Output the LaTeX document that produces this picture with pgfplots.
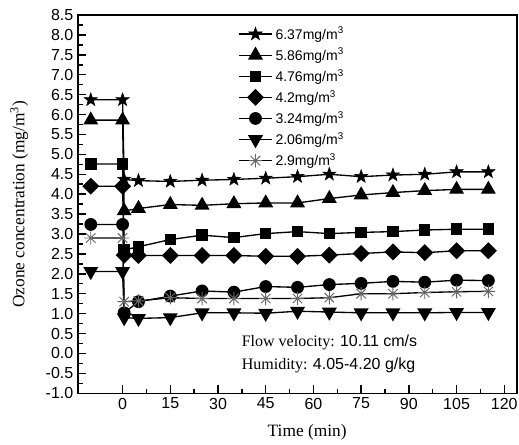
\documentclass[border=0pt]{standalone}
\usepackage{fontspec}
\setmainfont{Liberation Serif}
\setsansfont{Liberation Sans}
\usepackage{pgfplots}
\pgfplotsset{compat=1.18}
\usepackage{pgfplotstable}

% filled five-point star
\pgfdeclareplotmark{fstar}{%
  \pgfpathmoveto{\pgfpointpolar{90}{\pgfplotmarksize}}%
  \pgfpathlineto{\pgfpointpolar{126}{0.4\pgfplotmarksize}}%
  \pgfpathlineto{\pgfpointpolar{162}{\pgfplotmarksize}}%
  \pgfpathlineto{\pgfpointpolar{198}{0.4\pgfplotmarksize}}%
  \pgfpathlineto{\pgfpointpolar{234}{\pgfplotmarksize}}%
  \pgfpathlineto{\pgfpointpolar{270}{0.4\pgfplotmarksize}}%
  \pgfpathlineto{\pgfpointpolar{306}{\pgfplotmarksize}}%
  \pgfpathlineto{\pgfpointpolar{342}{0.4\pgfplotmarksize}}%
  \pgfpathlineto{\pgfpointpolar{18}{\pgfplotmarksize}}%
  \pgfpathlineto{\pgfpointpolar{54}{0.4\pgfplotmarksize}}%
  \pgfpathclose\pgfusepathqfillstroke}
% eight-arm asterisk
\pgfdeclareplotmark{ast8}{%
  \pgfpathmoveto{\pgfqpoint{0pt}{\pgfplotmarksize}}\pgfpathlineto{\pgfqpoint{0pt}{-\pgfplotmarksize}}%
  \pgfpathmoveto{\pgfqpoint{\pgfplotmarksize}{0pt}}\pgfpathlineto{\pgfqpoint{-\pgfplotmarksize}{0pt}}%
  \pgfpathmoveto{\pgfqpoint{0.707\pgfplotmarksize}{0.707\pgfplotmarksize}}\pgfpathlineto{\pgfqpoint{-0.707\pgfplotmarksize}{-0.707\pgfplotmarksize}}%
  \pgfpathmoveto{\pgfqpoint{-0.707\pgfplotmarksize}{0.707\pgfplotmarksize}}\pgfpathlineto{\pgfqpoint{0.707\pgfplotmarksize}{-0.707\pgfplotmarksize}}%
  \pgfusepathqstroke}

% time (min) and ozone concentration (mg/m^3) per initial concentration
\pgfplotstableread{
x     star  tri   sq    dia   cir   dtri  ast
-10   6.37  5.86  4.76  4.20  3.24  2.06  2.90
0     6.37  5.86  4.76  4.20  3.24  2.06  2.90
0.5   4.37  3.58  2.60  2.47  1.02  0.90  1.30
5     4.34  3.64  2.68  2.46  1.30  0.88  1.32
15    4.32  3.74  2.86  2.46  1.44  0.90  1.40
25    4.35  3.72  2.97  2.46  1.57  1.02  1.38
35    4.37  3.76  2.91  2.46  1.54  1.02  1.38
45    4.40  3.78  3.01  2.44  1.68  1.01  1.38
55    4.44  3.78  3.06  2.44  1.66  1.06  1.38
65    4.50  3.89  3.01  2.47  1.73  1.04  1.40
75    4.44  3.98  3.04  2.51  1.76  1.02  1.50
85    4.48  4.04  3.06  2.55  1.81  1.02  1.50
95    4.50  4.09  3.10  2.53  1.79  1.02  1.53
105   4.56  4.12  3.12  2.58  1.84  1.03  1.55
115   4.56  4.12  3.12  2.58  1.83  1.03  1.56
}\ozone

\begin{document}
\begin{tikzpicture}
\useasboundingbox (-58.5pt,-38.25pt) rectangle (330.5pt,294.75pt);
\begin{axis}[
  at={(0pt,0pt)}, anchor=south west,
  scale only axis,
  width=329pt, height=283.5pt,
  xmin=-14, xmax=124,
  ymin=-1, ymax=8.5,
  xtick={0,15,...,120},
  ytick={-1,-0.5,...,8.5},
  minor x tick num=1,
  minor y tick num=1,
  tick pos=left,
  tick align=inside,
  major tick length=6pt,
  minor tick length=3.5pt,
  axis line style={line width=1.1pt},
  every tick/.style={black, line width=1.1pt},
  /pgf/number format/assume math mode=true,
  yticklabel style={/pgf/number format/.cd, fixed, fixed zerofill, precision=1},
  tick label style={font=\sffamily\fontsize{12}{14}\selectfont},
  xlabel={Time (min)},
  ylabel={Ozone concentration (mg/m\textsuperscript{3})},
  label style={font=\fontsize{13}{15}\selectfont},
  xlabel style={at={(axis description cs:0.522,-0.103)}, anchor=center},
  ylabel style={at={(axis description cs:-0.134,0.5)}, anchor=center},
  legend style={at={(0.355,0.983)}, anchor=north west, draw=none, fill=none,
    font=\sffamily\fontsize{10.5}{12}\selectfont, row sep=1.2pt},
  legend cell align=left,
  legend image code/.code={\draw[mark repeat=2,mark phase=2] plot coordinates {(0pt,0pt) (12.5pt,0pt) (25pt,0pt)};},
  every axis plot/.append style={black, line width=1pt},
]
\addplot[mark=fstar, mark size=5.2pt, mark options={solid, line width=0.4pt}] table[y=star] {\ozone};
\addplot[mark=triangle*, mark size=5.5pt, mark options={solid}] table[y=tri] {\ozone};
\addplot[mark=square*, mark size=3.8pt, mark options={solid}] table[y=sq] {\ozone};
\addplot[mark=square*, mark size=4pt, mark options={solid, rotate=45}] table[y=dia] {\ozone};
\addplot[mark=*, mark size=4.3pt, mark options={solid}] table[y=cir] {\ozone};
\addplot[mark=triangle*, mark size=5.5pt, mark options={solid, rotate=180}] table[y=dtri] {\ozone};
\addplot[mark=ast8, mark size=5pt, mark options={solid, draw=black!60, line width=0.7pt}] table[y=ast] {\ozone};
\legend{6.37mg/m\textsuperscript{3}, 5.86mg/m\textsuperscript{3}, 4.76mg/m\textsuperscript{3}, 4.2mg/m\textsuperscript{3}, 3.24mg/m\textsuperscript{3}, 2.06mg/m\textsuperscript{3}, 2.9mg/m\textsuperscript{3}}
\node[anchor=west, font=\fontsize{12}{14}\selectfont] at (axis cs:36,0.27) {Flow velocity: \textsf{10.11 cm/s}};
\node[anchor=west, font=\fontsize{12}{14}\selectfont] at (axis cs:36,-0.29) {Humidity: \textsf{4.05-4.20 g/kg}};
\end{axis}
\end{tikzpicture}
\end{document}
